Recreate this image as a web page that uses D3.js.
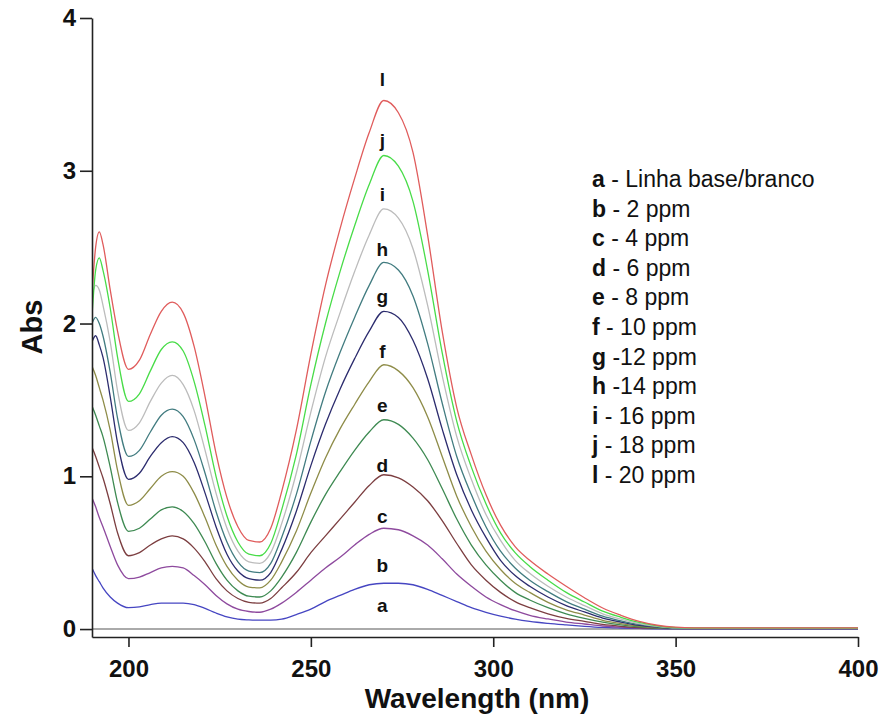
<!DOCTYPE html>
<html>
<head>
<meta charset="utf-8">
<script src="https://cdn.jsdelivr.net/npm/d3@7"></script>
<style>
  html, body { margin: 0; padding: 0; background: #fff; }
  svg { display: block; }
  text { font-family: "Liberation Sans", Arial, sans-serif; fill: #111; }
</style>
</head>
<body>
<svg id="chart" width="888" height="724"></svg>
<script>
// UV-Vis absorption spectra, wavelength (nm) vs absorbance
const wavelengths = [190,191,192,193,195,197,200,203,206,209,212,215,218,221,224,227,230,233,236,239,242,246,250,254,258,262,266,270,274,278,282,286,290,294,298,302,306,310,315,320,325,330,335,340,345,350,355,360,380,400];

const absA = [0,0,0,0,0,0,0,0,0,0,0,0,0,0,0,0,0,0,0,0,0,0,0,0,0,0,0,0,0,0,0,0,0,0,0,0,0,0,0,0,0,0,0,0,0,0,0,0,0,0];
const absB = [0.40,0.35,0.31,0.27, 0.21,0.17,0.14, 0.145,0.16,0.17,0.17, 0.17,0.16,0.135,0.105,0.08,0.065,0.06,0.058, 0.058,0.065,0.095,0.13,0.18,0.22,0.26,0.29,0.30, 0.30,0.29,0.26,0.22,0.18,0.14,0.11,0.085,0.065,0.05, 0.037,0.027,0.018,0.011,0.007,0.004,0.002,0.001, 0,0,0,0];
const absC = [0.86,0.80,0.73,0.67, 0.54,0.42,0.33, 0.34,0.37,0.40,0.41, 0.40,0.35,0.29,0.22,0.165,0.13,0.115,0.11, 0.13,0.17,0.24,0.32,0.40,0.47,0.55,0.62,0.66, 0.65,0.61,0.55,0.46,0.36,0.28,0.21,0.16,0.12,0.09, 0.066,0.046,0.033,0.02,0.012,0.007,0.004,0.002, 0.002,0.002,0.002,0.002];
const absD = [1.19,1.13,1.06,0.99, 0.82,0.63,0.48, 0.50,0.55,0.59,0.61, 0.59,0.53,0.44,0.33,0.25,0.20,0.175,0.17, 0.20,0.27,0.37,0.50,0.61,0.72,0.83,0.94,1.01, 0.99,0.93,0.84,0.71,0.56,0.42,0.32,0.24,0.18,0.14, 0.10,0.07,0.05,0.03,0.018,0.01,0.006,0.004, 0.004,0.004,0.004,0.004];
const absE = [1.46,1.40,1.33,1.26, 1.06,0.83,0.64, 0.66,0.72,0.78,0.80, 0.77,0.69,0.57,0.43,0.32,0.25,0.215,0.21, 0.25,0.34,0.50,0.70,0.88,1.03,1.17,1.29,1.37, 1.34,1.25,1.11,0.92,0.72,0.55,0.42,0.32,0.24,0.19, 0.14,0.10,0.07,0.045,0.027,0.015,0.007,0.003, 0.003,0.003,0.003,0.003];
const absF = [1.72,1.66,1.58,1.50, 1.30,1.04,0.81, 0.84,0.92,1.00,1.03, 1.00,0.89,0.73,0.55,0.41,0.32,0.275,0.27, 0.32,0.44,0.64,0.89,1.12,1.31,1.47,1.62,1.73, 1.69,1.58,1.39,1.13,0.87,0.67,0.51,0.39,0.30,0.24, 0.175,0.126,0.092,0.057,0.036,0.02,0.01,0.006, 0.006,0.006,0.006,0.006];
const absG = [1.88,1.92,1.86,1.78, 1.52,1.22,0.98, 1.02,1.13,1.22,1.26, 1.22,1.09,0.89,0.67,0.49,0.38,0.33,0.32, 0.37,0.52,0.77,1.07,1.34,1.57,1.77,1.95,2.08, 2.04,1.89,1.64,1.31,1.01,0.78,0.60,0.45,0.35,0.28, 0.21,0.154,0.112,0.072,0.046,0.025,0.012,0.005, 0.005,0.005,0.005,0.005];
const absH = [2.00,2.04,2.00,1.92, 1.68,1.38,1.13, 1.17,1.29,1.40,1.44, 1.39,1.24,1.02,0.77,0.57,0.44,0.38,0.37, 0.43,0.60,0.88,1.23,1.55,1.81,2.04,2.25,2.40, 2.35,2.18,1.87,1.48,1.13,0.88,0.67,0.51,0.40,0.32, 0.245,0.18,0.13,0.084,0.054,0.03,0.015,0.006, 0.004,0.004,0.004,0.004];
const absI = [2.18,2.25,2.22,2.12, 1.88,1.56,1.30, 1.35,1.49,1.61,1.66, 1.60,1.43,1.17,0.89,0.66,0.51,0.44,0.43, 0.50,0.69,1.02,1.42,1.78,2.07,2.34,2.58,2.75, 2.69,2.49,2.12,1.66,1.26,0.98,0.75,0.58,0.45,0.365, 0.28,0.21,0.153,0.10,0.065,0.036,0.018,0.008, 0.007,0.007,0.007,0.007];
const absJ = [2.05,2.35,2.43,2.35, 2.10,1.78,1.49, 1.54,1.69,1.83,1.88, 1.82,1.62,1.33,1.00,0.74,0.57,0.49,0.48, 0.56,0.78,1.14,1.60,2.00,2.34,2.64,2.91,3.10, 3.03,2.80,2.35,1.81,1.36,1.06,0.82,0.63,0.50,0.41, 0.32,0.24,0.177,0.117,0.077,0.043,0.021,0.009, 0.006,0.006,0.006,0.006];
const absL = [2.20,2.50,2.60,2.52, 2.22,1.95,1.70, 1.76,1.93,2.08,2.14, 2.07,1.85,1.52,1.15,0.86,0.67,0.58,0.57, 0.66,0.90,1.30,1.80,2.25,2.62,2.95,3.25,3.46, 3.38,3.12,2.58,1.95,1.45,1.14,0.88,0.68,0.54,0.45, 0.36,0.28,0.205,0.138,0.09,0.05,0.025,0.012, 0.008,0.008,0.008,0.008];

const seriesKeys = ["a","b","c","d","e","f","g","h","i","j","l"];
const seriesValues = [absA, absB, absC, absD, absE, absF, absG, absH, absI, absJ, absL];
const seriesColors = ["#8e8e8e","#4646c2","#8e4a9e","#7c3e40","#3e8a52","#8e8c48","#2c2c6e","#427c80","#bcbcbc","#48dc48","#e05c5c"];

// curve letter label heights (absorbance units), drawn near 270 nm
const labelAbs = [0.112, 0.374, 0.694, 1.028, 1.42, 1.774, 2.134, 2.44, 2.80, 3.156, 3.555];

const legendLetters = ["a","b","c","d","e","f","g","h","i","j","l"];
const legendTexts = [" - Linha base/branco"," - 2 ppm"," - 4 ppm"," - 6 ppm"," - 8 ppm"," - 10 ppm"," -12 ppm"," -14 ppm"," - 16 ppm"," - 18 ppm"," - 20 ppm"];

const xTicks = [200, 250, 300, 350, 400];
const yTicks = [0, 1, 2, 3, 4];

const svg = d3.select("#chart");
const plot = { left: 92, right: 858, top: 18, bottom: 637 };

const x = d3.scaleLinear().domain([190, 400]).range([plot.left, plot.right]);
const y = d3.scaleLinear().domain([-0.052, 4]).range([plot.bottom, plot.top]);

svg.append("defs").append("clipPath").attr("id", "plotClip")
  .append("rect")
  .attr("x", plot.left).attr("y", plot.top - 2)
  .attr("width", plot.right - plot.left + 2)
  .attr("height", plot.bottom - plot.top);

// spectra
const line = d3.line()
  .x((d, i) => x(wavelengths[i]))
  .y(d => y(d))
  .curve(d3.curveMonotoneX);

svg.append("g").attr("clip-path", "url(#plotClip)")
  .selectAll("path")
  .data(seriesValues)
  .join("path")
  .attr("d", d => line(d))
  .attr("fill", "none")
  .attr("stroke", (d, i) => seriesColors[i])
  .attr("stroke-width", (d, i) => i === 0 ? 1.6 : 1.3)
  .attr("stroke-linejoin", "round");

// axes
const xAxis = svg.append("g")
  .attr("transform", `translate(0,${plot.bottom})`)
  .call(d3.axisBottom(x).tickValues(xTicks).tickSize(10).tickSizeOuter(0).tickPadding(13).tickFormat(d3.format("d")));
const yAxis = svg.append("g")
  .attr("transform", `translate(${plot.left},0)`)
  .call(d3.axisLeft(y).tickValues(yTicks).tickSize(12).tickSizeOuter(0).tickPadding(4).tickFormat(d3.format("d")));

[xAxis, yAxis].forEach(g => {
  g.select(".domain").attr("stroke", "#222").attr("stroke-width", 1.6);
  g.selectAll(".tick line").attr("stroke", "#222").attr("stroke-width", 1.6);
  g.selectAll(".tick text")
    .attr("font-family", "Liberation Sans, Arial, sans-serif")
    .attr("font-size", 24).attr("font-weight", "bold").attr("fill", "#111");
});

// axis titles
svg.append("text")
  .attr("x", 477).attr("y", 708)
  .attr("text-anchor", "middle")
  .attr("font-size", 28).attr("font-weight", "bold")
  .text("Wavelength (nm)");

svg.append("text")
  .attr("transform", "translate(42,327) rotate(-90)")
  .attr("text-anchor", "middle")
  .attr("font-size", 29).attr("font-weight", "bold")
  .text("Abs");

// curve letters
svg.append("g").selectAll("text")
  .data(seriesKeys)
  .join("text")
  .attr("x", x(269.6))
  .attr("y", (d, i) => y(labelAbs[i]))
  .attr("text-anchor", "middle")
  .attr("font-size", 19).attr("font-weight", "bold")
  .text(d => d);

// legend
const legend = svg.append("g");
legendLetters.forEach((k, i) => {
  const t = legend.append("text")
    .attr("x", 592).attr("y", 187 + i * 29.6)
    .attr("font-size", 23);
  t.append("tspan").attr("font-weight", "bold").text(k);
  t.append("tspan").text(legendTexts[i]);
});
</script>
</body>
</html>
